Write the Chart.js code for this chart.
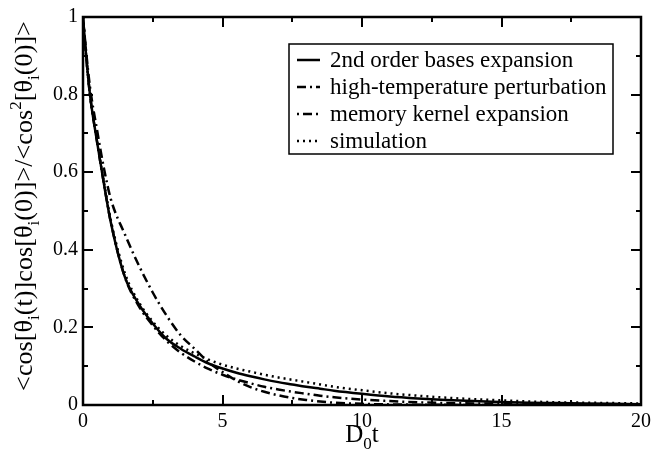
<!DOCTYPE html>
<html>
<head>
<meta charset="utf-8">
<script src="https://cdn.jsdelivr.net/npm/chart.js@4/dist/chart.umd.min.js"></script>
<style>
  html, body { margin: 0; padding: 0; background: #fff; }
  #wrap { width: 652px; height: 455px; position: relative; }
</style>
</head>
<body>
<div id="wrap"><canvas id="c" width="652" height="455"></canvas></div>
<script>
// ---- data ----
const tValues = [0, 0.1, 0.25, 0.5, 0.75, 1, 1.5, 2, 2.5, 3, 3.5, 4, 4.5, 5, 5.5, 6, 6.5, 7, 7.5, 8, 8.5, 9, 10, 11, 12, 13, 14, 15, 16, 17, 18, 19, 20];
const secondOrder = [1, 0.91, 0.80, 0.68, 0.57, 0.47, 0.33, 0.26, 0.21, 0.17, 0.145, 0.125, 0.107, 0.094, 0.083, 0.074, 0.066, 0.059, 0.053, 0.047, 0.042, 0.037, 0.029, 0.022, 0.017, 0.013, 0.010, 0.008, 0.006, 0.005, 0.004, 0.003, 0.002];
const highTemp = [1, 0.92, 0.82, 0.71, 0.61, 0.53, 0.44, 0.36, 0.29, 0.23, 0.18, 0.145, 0.11, 0.085, 0.063, 0.046, 0.034, 0.025, 0.018, 0.013, 0.009, 0.006, 0.003, 0.0015, 0.0008, 0.0004, 0.0002, 0.0001, 0, 0, 0, 0, 0];
const memoryKernel = [1, 0.91, 0.80, 0.68, 0.57, 0.47, 0.33, 0.255, 0.205, 0.165, 0.135, 0.112, 0.093, 0.078, 0.066, 0.056, 0.047, 0.040, 0.034, 0.029, 0.024, 0.020, 0.014, 0.010, 0.007, 0.005, 0.004, 0.003, 0.002, 0.0015, 0.001, 0.001, 0.0005];
const simulation = [1, 0.91, 0.80, 0.68, 0.575, 0.475, 0.34, 0.265, 0.215, 0.178, 0.152, 0.133, 0.117, 0.104, 0.094, 0.086, 0.078, 0.071, 0.065, 0.059, 0.053, 0.047, 0.038, 0.030, 0.024, 0.019, 0.015, 0.012, 0.009, 0.007, 0.006, 0.005, 0.004];
const seriesNames = ["2nd order bases expansion", "high-temperature perturbation", "memory kernel expansion", "simulation"];
const xTickStep = 5;
const yTickStep = 0.2;

const SERIF = '"Liberation Serif", "DejaVu Serif", serif';
const styles = [
  { dash: [], width: 2.5 },
  { dash: [9, 4, 2, 4], width: 2.5 },
  { dash: [2, 4, 9, 4], width: 2.5 },
  { dash: [2, 4], width: 2.5 }
];
const allSeries = [secondOrder, highTemp, memoryKernel, simulation];

const datasets = allSeries.map((s, k) => ({
  label: seriesNames[k],
  data: tValues.map((t, i) => ({ x: t, y: s[i] })),
  borderColor: '#000',
  borderWidth: styles[k].width,
  borderDash: styles[k].dash,
  pointRadius: 0,
  fill: false,
  cubicInterpolationMode: 'monotone'
}));

// frame + inward ticks on all four sides
const framePlugin = {
  id: 'frame',
  afterDraw(chart) {
    const ctx = chart.ctx;
    const { left, right, top, bottom } = chart.chartArea;
    const xs = chart.scales.x, ys = chart.scales.y;
    ctx.save();
    ctx.strokeStyle = '#000';
    ctx.lineWidth = 2;
    ctx.beginPath();
    for (let v = 0; v <= 20 + 1e-9; v += 2.5) {
      const px = Math.round(xs.getPixelForValue(v));
      const len = (Math.abs(v % 5) < 1e-9) ? 10 : 5;
      ctx.moveTo(px, bottom); ctx.lineTo(px, bottom - len);
      ctx.moveTo(px, top); ctx.lineTo(px, top + len);
    }
    for (let i = 0; i <= 10; i++) {
      const v = i / 10;
      const py = Math.round(ys.getPixelForValue(v));
      const len = (i % 2 === 0) ? 10 : 5;
      ctx.moveTo(left, py); ctx.lineTo(left + len, py);
      ctx.moveTo(right, py); ctx.lineTo(right - len, py);
    }
    ctx.stroke();
    ctx.lineWidth = 2.5;
    ctx.strokeRect(left, top, right - left, bottom - top);
    ctx.restore();
  }
};

// axis titles with sub/superscripts
function drawRich(ctx, parts, base, small) {
  let x = 0;
  for (const p of parts) {
    if (p.s === 'sub') {
      ctx.font = small + 'px ' + SERIF;
      ctx.fillText(p.t, x, base * 0.28);
      x += ctx.measureText(p.t).width;
    } else if (p.s === 'sup') {
      ctx.font = small + 'px ' + SERIF;
      ctx.fillText(p.t, x, -base * 0.42);
      x += ctx.measureText(p.t).width;
    } else {
      ctx.font = base + 'px ' + SERIF;
      ctx.fillText(p.t, x, 0);
      x += ctx.measureText(p.t).width;
    }
  }
  return x;
}
function measureRich(ctx, parts, base, small) {
  let w = 0;
  for (const p of parts) {
    ctx.font = (p.s ? small : base) + 'px ' + SERIF;
    w += ctx.measureText(p.t).width;
  }
  return w;
}
const yTitleParts = [
  { t: '<cos[\u03B8' }, { t: 'i', s: 'sub' }, { t: '(t)]cos[\u03B8' }, { t: 'i', s: 'sub' },
  { t: '(0)]>/<cos' }, { t: '2', s: 'sup' }, { t: '[\u03B8' }, { t: 'i', s: 'sub' }, { t: '(0)]>' }
];
const xTitleParts = [{ t: 'D' }, { t: '0', s: 'sub' }, { t: 't' }];

const titlePlugin = {
  id: 'titles',
  afterDraw(chart) {
    const ctx = chart.ctx;
    const { left, right } = chart.chartArea;
    ctx.save();
    ctx.fillStyle = '#000';
    ctx.textBaseline = 'alphabetic';
    ctx.textAlign = 'left';
    // y title: sized so that it spans the same length as in the reference
    let yb = 23, ys = 15;
    const w0 = measureRich(ctx, yTitleParts, yb, ys);
    const f = 370 / w0;
    yb = yb * f; ys = ys * f;
    const wy = measureRich(ctx, yTitleParts, yb, ys);
    ctx.save();
    ctx.translate(32, 206 + wy / 2);
    ctx.rotate(-Math.PI / 2);
    drawRich(ctx, yTitleParts, yb, ys);
    ctx.restore();
    // x title
    const xb = 25, xsm = 17;
    const wx = measureRich(ctx, xTitleParts, xb, xsm);
    ctx.save();
    ctx.translate((left + right) / 2 - wx / 2, 442);
    drawRich(ctx, xTitleParts, xb, xsm);
    ctx.restore();
    ctx.restore();
  }
};

// boxed legend inside the plot
const legendPlugin = {
  id: 'boxLegend',
  afterDraw(chart) {
    const ctx = chart.ctx;
    ctx.save();
    const bx = 289, by = 44, bw = 324, bh = 110;
    ctx.fillStyle = '#fff';
    ctx.fillRect(bx, by, bw, bh);
    ctx.strokeStyle = '#000';
    ctx.lineWidth = 1.5;
    ctx.strokeRect(bx, by, bw, bh);
    ctx.font = '23px ' + SERIF;
    ctx.textBaseline = 'middle';
    ctx.textAlign = 'left';
    ctx.fillStyle = '#000';
    seriesNames.forEach((name, k) => {
      const cy = 60 + k * 27;
      ctx.beginPath();
      ctx.lineWidth = styles[k].width;
      ctx.setLineDash(styles[k].dash);
      ctx.moveTo(297, cy);
      ctx.lineTo(320, cy);
      ctx.stroke();
      ctx.setLineDash([]);
      ctx.fillText(name, 330, cy + 1);
    });
    ctx.restore();
  }
};

new Chart(document.getElementById('c'), {
  type: 'line',
  data: { datasets },
  options: {
    responsive: false,
    animation: false,
    devicePixelRatio: 1,
    layout: { padding: { top: 17, right: 11, left: 0, bottom: 0 } },
    plugins: { legend: { display: false }, tooltip: { enabled: false }, title: { display: false } },
    scales: {
      x: {
        type: 'linear', min: 0, max: 20,
        ticks: { stepSize: xTickStep, color: '#000', font: { family: SERIF, size: 20 }, padding: 5, maxRotation: 0 },
        grid: { display: false, drawTicks: false },
        border: { display: false },
        afterFit(s) { s.height = 50; s.paddingRight = 0; s.paddingLeft = 0; }
      },
      y: {
        type: 'linear', min: 0, max: 1,
        ticks: {
          stepSize: yTickStep, color: '#000', font: { family: SERIF, size: 20 }, padding: 5,
          callback: (v) => (Math.abs(v) < 1e-9 ? '0' : Math.abs(v - 1) < 1e-9 ? '1' : Number(v).toFixed(1))
        },
        grid: { display: false, drawTicks: false },
        border: { display: false },
        afterFit(s) { s.width = 83; s.paddingTop = 0; s.paddingBottom = 0; }
      }
    }
  },
  plugins: [framePlugin, titlePlugin, legendPlugin]
});
</script>
</body>
</html>
